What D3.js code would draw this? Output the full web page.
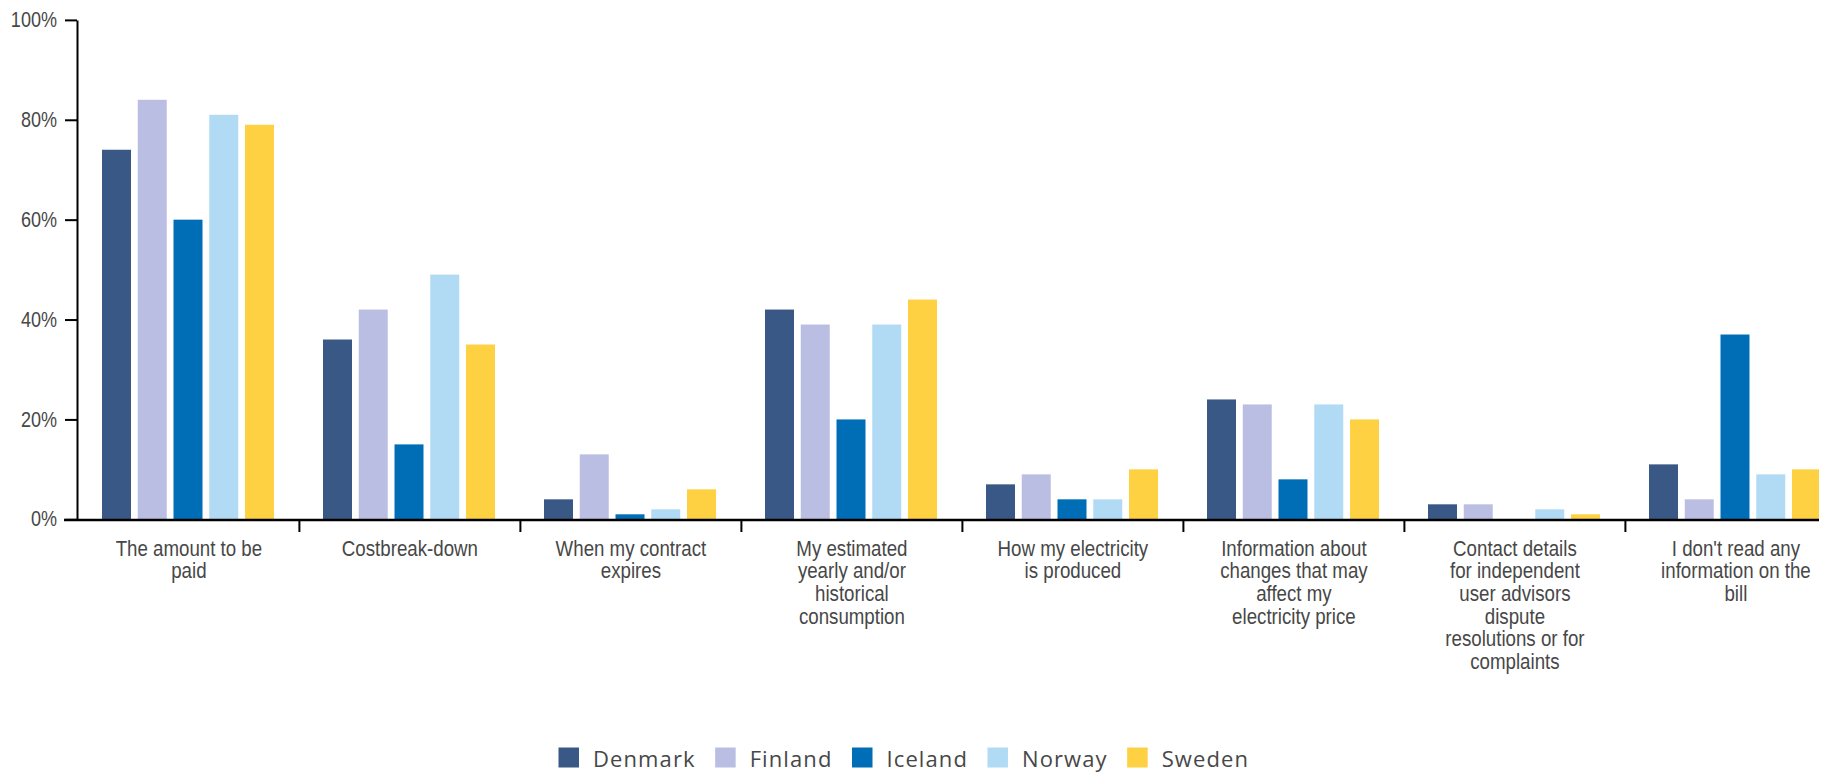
<!DOCTYPE html>
<html>
<head>
<meta charset="utf-8">
<script src="https://cdn.jsdelivr.net/npm/d3@7"></script>
<style>
  html, body { margin: 0; padding: 0; background: #fff; }
  svg { display: block; }
  .lab { font-family: "Liberation Sans", Arial, sans-serif; fill: #474747; }
  .leg { font-family: "Open Sans", "Lato", sans-serif; fill: #474747; }
</style>
</head>
<body>
<script>
// ---- data ----
const categories = [
  "The amount to be\npaid",
  "Costbreak-down",
  "When my contract\nexpires",
  "My estimated\nyearly and/or\nhistorical\nconsumption",
  "How my electricity\nis produced",
  "Information about\nchanges that may\naffect my\nelectricity price",
  "Contact details\nfor independent\nuser advisors\ndispute\nresolutions or for\ncomplaints",
  "I don't read any\ninformation on the\nbill"
];
const seriesNames = ["Denmark", "Finland", "Iceland", "Norway", "Sweden"];
const denmark = [74, 36, 4, 42, 7, 24, 3, 11];
const finland = [84, 42, 13, 39, 9, 23, 3, 4];
const iceland = [60, 15, 1, 20, 4, 8, 0, 37];
const norway  = [81, 49, 2, 39, 4, 23, 2, 9];
const sweden  = [79, 35, 6, 44, 10, 20, 1, 10];
const yTicks = [0, 20, 40, 60, 80, 100];
const colors = ["#3A5886", "#BBBEE3", "#006EB6", "#B1DBF5", "#FED142"];

const seriesValues = [denmark, finland, iceland, norway, sweden];

// ---- layout ----
const W = 1834, H = 774;
const svg = d3.select("body").append("svg").attr("width", W).attr("height", H);

const plotLeft = 78.4, bandW = 221, plotRight = 1819;
const condense = 0.85;
const x0 = d3.scaleBand().domain(categories).range([plotLeft, plotLeft + bandW * categories.length]).padding(0);
const x1 = d3.scaleBand().domain(seriesNames).range([23.6, 195.6]).paddingInner(0.189).paddingOuter(0);
const y = d3.scaleLinear().domain([0, 100]).range([519.3, 19.9]);
const color = d3.scaleOrdinal().domain(seriesNames).range(colors);

svg.append("defs").append("clipPath").attr("id", "plotclip")
  .append("rect").attr("x", 0).attr("y", 0).attr("width", plotRight).attr("height", H);

// bars
const gBars = svg.append("g").attr("clip-path", "url(#plotclip)");
const groups = gBars.selectAll("g.grp").data(categories).join("g")
  .attr("class", "grp")
  .attr("transform", d => `translate(${x0(d)},0)`);
groups.selectAll("rect").data((c, i) => seriesNames.map((s, j) => ({ s, v: seriesValues[j][i] })))
  .join("rect")
  .attr("x", d => x1(d.s))
  .attr("width", x1.bandwidth())
  .attr("y", d => y(d.v))
  .attr("height", d => y(0) - y(d.v))
  .attr("fill", d => color(d.s));

// y axis
const yAxis = d3.axisLeft(y).tickValues(yTicks).tickFormat(d => d + "%").tickSize(12).tickSizeOuter(0).tickPadding(0);
const gy = svg.append("g").attr("transform", "translate(77,0)").call(yAxis);
gy.select(".domain").attr("stroke", "#000").attr("stroke-width", 2);
gy.selectAll(".tick line").attr("stroke", "#000").attr("stroke-width", 2);
gy.selectAll(".tick text")
  .attr("class", "lab")
  .attr("font-size", 22)
  .attr("x", 0)
  .attr("dy", "0.3em")
  .attr("transform", `translate(-20,0) scale(0.82,1)`);

// x axis line
svg.append("line").attr("x1", 64).attr("x2", plotRight).attr("y1", 520).attr("y2", 520)
  .attr("stroke", "#000").attr("stroke-width", 2.4);

// x ticks at band boundaries (between categories)
svg.selectAll("line.xt").data(categories.slice(1)).join("line")
  .attr("class", "xt")
  .attr("x1", d => x0(d)).attr("x2", d => x0(d))
  .attr("y1", 520).attr("y2", 532)
  .attr("stroke", "#000").attr("stroke-width", 2);

// x labels
const xl = svg.selectAll("text.xl").data(categories).join("text")
  .attr("class", "lab xl")
  .attr("font-size", 22)
  .attr("text-anchor", "middle")
  .attr("transform", d => `translate(${x0(d) + x0.bandwidth() / 2},555.5) scale(${condense},1)`);
xl.selectAll("tspan").data(d => d.split("\n")).join("tspan")
  .attr("x", 0).attr("y", (d, i) => i * 22.7).text(d => d);

// legend
const lg = svg.append("g");
let lx = 558.5;
seriesNames.forEach((s, i) => {
  lg.append("rect").attr("x", lx).attr("y", 747.5).attr("width", 20.5).attr("height", 20).attr("fill", colors[i]);
  const t = lg.append("text").attr("class", "leg").attr("x", lx + 34.5).attr("y", 767)
    .attr("font-size", 22).attr("letter-spacing", 1.1).text(s);
  lx = lx + 34.5 + t.node().getComputedTextLength() + 19.5;
});
</script>
</body>
</html>
